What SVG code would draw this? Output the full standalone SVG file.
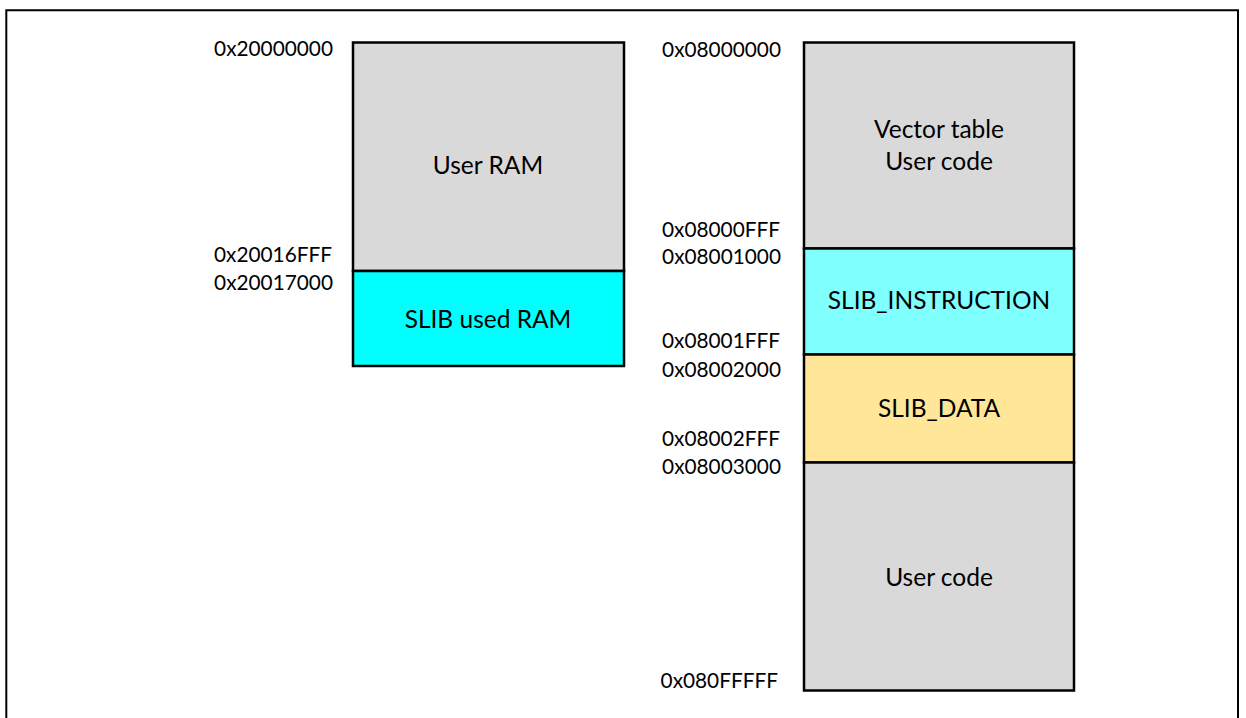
<svg xmlns="http://www.w3.org/2000/svg" width="1246" height="718" viewBox="0 0 1246 718">
<style>
.blk{stroke:#000;stroke-width:2.5}
.gray{fill:#d9d9d9}
.cyan{fill:#00ffff}
.lcyan{fill:#80ffff}
.yel{fill:#ffe699}
.addr{font-family:Lato,"Liberation Sans",sans-serif;font-size:20.8px;fill:#000;text-anchor:end}
.lbl{font-family:Lato,"Liberation Sans",sans-serif;font-size:24.5px;fill:#000;text-anchor:middle}
</style>
<rect width="1246" height="718" fill="#fff"/>
<path d="M6.3,718 V10.3 H1238 V718" fill="none" stroke="#000" stroke-width="2"/>
<g id="ram">
<g id="user-ram">
<rect class="blk gray" x="353" y="42.5" width="271" height="228.5"/>
<text class="lbl" x="488" y="174">User RAM</text>
</g>
<g id="slib-ram">
<rect class="blk cyan" x="353" y="271" width="271" height="95"/>
<text class="lbl" x="488" y="328">SLIB used RAM</text>
</g>
<text class="addr" x="333" y="56">0x20000000</text>
<text class="addr" x="332" y="262">0x20016FFF</text>
<text class="addr" x="333" y="290">0x20017000</text>
</g>
<g id="flash">
<g id="vector">
<rect class="blk gray" x="804" y="42.5" width="270" height="206"/>
<text class="lbl" x="939" y="138">Vector table</text>
<text class="lbl" x="939" y="170">User code</text>
</g>
<g id="slib-instr">
<rect class="blk lcyan" x="804" y="248.5" width="270" height="106"/>
<text class="lbl" x="939" y="309">SLIB_INSTRUCTION</text>
</g>
<g id="slib-data">
<rect class="blk yel" x="804" y="354.5" width="270" height="108"/>
<text class="lbl" x="939" y="417">SLIB_DATA</text>
</g>
<g id="user-code">
<rect class="blk gray" x="804" y="462.5" width="270" height="228"/>
<text class="lbl" x="939" y="586">User code</text>
</g>
<text class="addr" x="781" y="57">0x08000000</text>
<text class="addr" x="780" y="237">0x08000FFF</text>
<text class="addr" x="781" y="264">0x08001000</text>
<text class="addr" x="780" y="348">0x08001FFF</text>
<text class="addr" x="781" y="377">0x08002000</text>
<text class="addr" x="780" y="446">0x08002FFF</text>
<text class="addr" x="781" y="474">0x08003000</text>
<text class="addr" x="778" y="688">0x080FFFFF</text>
</g>
</svg>
